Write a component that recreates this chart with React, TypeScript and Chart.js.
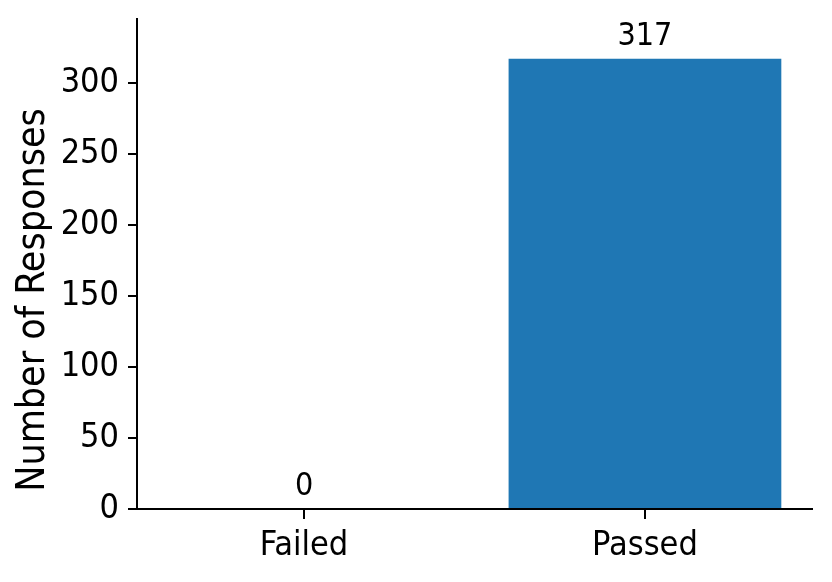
import React, { useEffect, useRef } from "react";
import { Chart, registerables } from "chart.js";

Chart.register(...registerables);

const categories: string[] = ["Failed", "Passed"];
const responses: number[] = [0, 317];
const yTicks: number[] = [0, 50, 100, 150, 200, 250, 300];
const yTitle = "Number of Responses";
const yMax = 345;
const xMin = -0.49;
const xMax = 1.49;

const FONT = "'DejaVu Sans Condensed', 'DejaVu Sans', sans-serif";
const BAR_COLOR = "#1f77b4";

const valueLabels = {
  id: "valueLabels",
  afterDatasetsDraw(chart: any) {
    const ctx = chart.ctx;
    const meta = chart.getDatasetMeta(0);
    ctx.save();
    ctx.font = `32px ${FONT}`;
    ctx.fillStyle = "#000";
    ctx.textAlign = "center";
    ctx.textBaseline = "alphabetic";
    meta.data.forEach((el: any, i: number) => {
      ctx.fillText(String(responses[i]), el.x, el.y - 14);
    });
    ctx.restore();
  },
};

const yAxisTitle = {
  id: "yAxisTitle",
  afterDraw(chart: any) {
    const ctx = chart.ctx;
    const area = chart.chartArea;
    const cx = chart.scales.y.left + 33.5;
    const cy = (area.top + area.bottom) / 2 + 36;
    ctx.save();
    ctx.translate(cx, cy);
    ctx.rotate(-Math.PI / 2);
    ctx.font = `39px ${FONT}`;
    ctx.fillStyle = "#000";
    ctx.textAlign = "center";
    ctx.textBaseline = "middle";
    ctx.fillText(yTitle, 0, 0);
    ctx.restore();
  },
};

export default function App() {
  const ref = useRef<HTMLCanvasElement | null>(null);
  useEffect(() => {
    if (!ref.current) return;
    const chart = new Chart(ref.current, {
      type: "bar",
      data: {
        datasets: [
          {
            label: yTitle,
            data: responses.map((v, i) => ({ x: i, y: v })),
            backgroundColor: BAR_COLOR,
            borderWidth: 0,
            barPercentage: 0.8,
            categoryPercentage: 1,
          },
        ],
      },
      options: {
        animation: false,
        responsive: false,
        maintainAspectRatio: false,
        layout: { padding: { top: 19, right: 20, left: 0, bottom: 0 } },
        plugins: { legend: { display: false }, tooltip: { enabled: false } },
        scales: {
          x: {
            type: "linear",
            min: xMin,
            max: xMax,
            offset: false,
            afterBuildTicks: (scale: any) => {
              scale.ticks = categories.map((_, i) => ({ value: i }));
            },
            afterFit: (scale: any) => {
              scale.height = 73;
              scale.paddingLeft = 0;
              scale.paddingRight = 0;
            },
            grid: {
              display: true,
              offset: false,
              drawOnChartArea: false,
              drawTicks: true,
              tickLength: 10,
              color: "#000",
              lineWidth: 2,
            },
            border: { display: true, color: "#000", width: 2 },
            ticks: {
              color: "#000",
              font: { family: FONT, size: 34 },
              padding: 7,
              maxRotation: 0,
              autoSkip: false,
              callback: (v: any) => categories[Math.round(Number(v))] ?? "",
            },
          },
          y: {
            type: "linear",
            min: 0,
            max: yMax,
            afterBuildTicks: (scale: any) => {
              scale.ticks = yTicks.map((v) => ({ value: v }));
            },
            afterFit: (scale: any) => {
              scale.width = 137;
              scale.paddingTop = 0;
              scale.paddingBottom = 0;
            },
            grid: {
              display: true,
              offset: false,
              drawOnChartArea: false,
              drawTicks: true,
              tickLength: 9,
              color: "#000",
              lineWidth: 2,
            },
            border: { display: true, color: "#000", width: 2 },
            ticks: {
              color: "#000",
              font: { family: FONT, size: 34 },
              padding: 9,
            },
            title: { display: false },
          },
        },
      },
      plugins: [valueLabels, yAxisTitle],
    });
    return () => chart.destroy();
  }, []);

  return (
    <div style={{ position: "fixed", left: 0, top: 0, width: 832, height: 582, background: "#fff" }}>
      <canvas ref={ref} width={832} height={582} />
    </div>
  );
}
